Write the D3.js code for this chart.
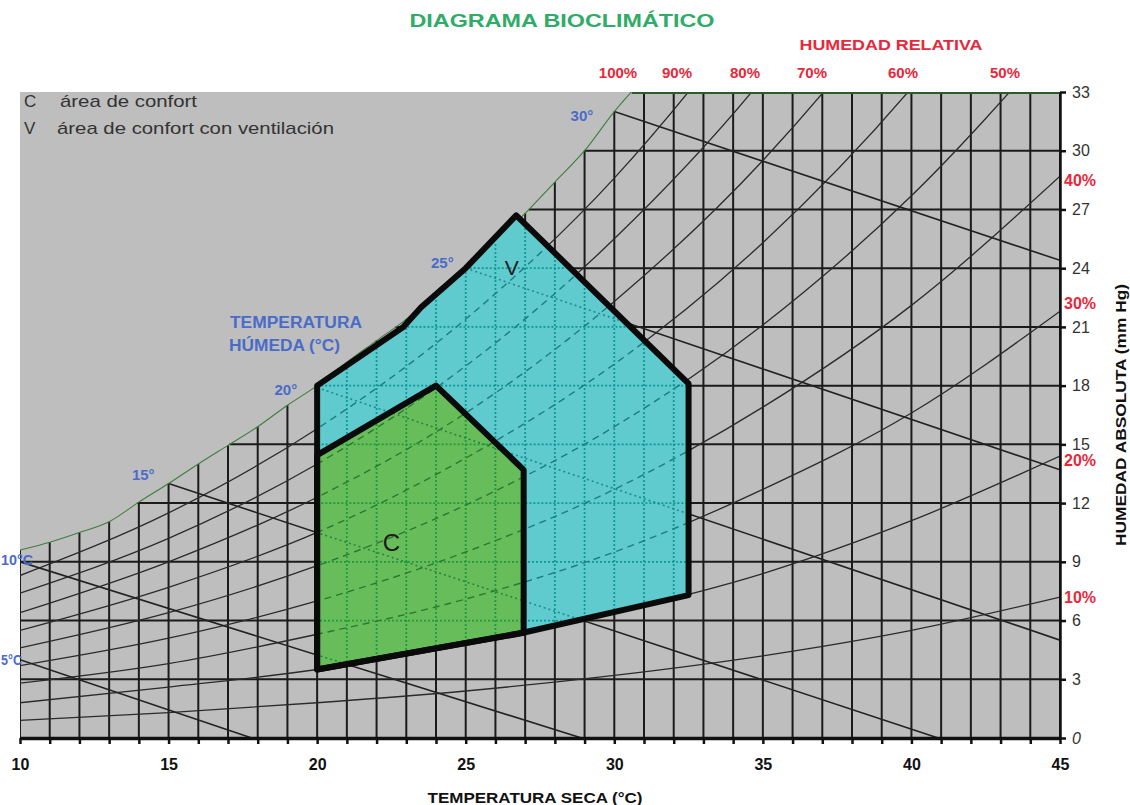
<!DOCTYPE html>
<html>
<head>
<meta charset="utf-8">
<script src="https://cdn.jsdelivr.net/npm/d3@7"></script>
<style>
  body { margin: 0; background: #ffffff; }
  svg { display: block; }
</style>
</head>
<body>
<svg id="chart" width="1130" height="805"></svg>
<script>
// ---- Axis ticks and labels ----
const gridTemps = d3.range(10, 46);                       // one grid line per °C
const tempLabels = [10, 15, 20, 25, 30, 35, 40, 45];      // labelled dry-bulb temperatures
const humidityLabels = [0, 3, 6, 9, 12, 15, 18, 21, 24, 27, 30, 33]; // mm Hg

// ---- Saturation curve (100 % relative humidity), mm Hg per °C ----
const satTemps    = [10, 11, 12, 13, 14, 15, 16, 17, 18, 19, 20, 21, 22, 23, 24, 25, 26, 27, 28, 29, 30, 31];
const satPressure = [9.6, 10.0, 10.5, 11.05, 12.05, 13.0, 14.0, 14.95, 15.9, 17.0, 18.0, 19.2, 20.3, 21.4, 22.8, 24.0, 25.3, 26.8, 28.4, 30.0, 32.0, 33.7];

// ---- Relative humidity curves, vapour pressure (mm Hg) at rhTemps ----
const rhTemps = [10, 15, 20, 25, 30, 35, 40, 45];
const rh90 = [8.3, 11.5, 15.8, 21.4, 28.6, 38.0, 49.8, 64.7];
const rh80 = [7.4, 10.2, 14.0, 19.0, 25.5, 33.7, 44.3, 57.5];
const rh70 = [6.4, 9.0, 12.3, 16.6, 22.3, 29.5, 38.7, 50.3];
const rh60 = [5.5, 7.7, 10.5, 14.3, 19.1, 25.3, 33.2, 43.1];
const rh50 = [4.6, 6.4, 8.8, 11.9, 15.9, 21.1, 27.7, 35.9];
const rh40 = [3.7, 5.1, 7.0, 9.5, 12.7, 16.9, 22.1, 28.7];
const rh30 = [2.8, 3.8, 5.3, 7.1, 9.5, 12.7, 16.6, 21.8];
const rh20 = [1.8, 2.6, 3.5, 4.8, 6.4, 8.4, 11.1, 14.4];
const rh10 = [0.9, 1.3, 1.8, 2.4, 3.2, 4.2, 5.5, 7.2];
const rhCurves = [rh90, rh80, rh70, rh60, rh50, rh40, rh30, rh20, rh10];
const rhTopLabels   = ["100%", "90%", "80%", "70%", "60%", "50%"];
const rhRightLabels = ["40%", "30%", "20%", "10%"];

// ---- Wet-bulb temperature lines: [°C dry, mm Hg] at each end ----
const wetBulbLabels = ["5°C", "10°C", "15°", "20°", "25°", "30°"];
const wetBulbStart  = [[10, 4.0], [10, 9.0], [15, 13.0], [20, 17.9], [25, 24.0], [30, 32.0]];
const wetBulbEnd    = [[17.8, 0], [28.9, 0], [40.9, 0], [45, 5.0], [45, 13.7], [45, 24.4]];

// ---- Comfort zones: [°C dry, mm Hg] ----
const comfortZone     = [[20, 3.5], [20, 14.45], [24.0, 18.0], [26.95, 13.7], [26.95, 5.37]];
const ventilationZone = [[20, 3.5], [20, 18.0], [22.9, 21.0], [23.5, 22.0], [25.0, 24.0], [26.7, 26.7],
                         [32.5, 18.1], [32.5, 7.3], [27.0, 5.4]];

// ---- Scales ----
const svg = d3.select("#chart");
const x = d3.scaleLinear().domain([10, 45]).range([20, 1060]);
const y = d3.scaleLinear().domain([0, 33]).range([738, 92]);

const narrow = "'Liberation Sans Narrow', 'Arial Narrow', 'Liberation Sans', Arial, sans-serif";
const sans = "'Liberation Sans', Arial, sans-serif";

function satAt(t) {
  if (t >= satTemps[satTemps.length - 1]) return satPressure[satPressure.length - 1];
  for (let i = 0; i < satTemps.length - 1; i++) {
    if (t >= satTemps[i] && t <= satTemps[i + 1]) {
      const f = (t - satTemps[i]) / (satTemps[i + 1] - satTemps[i]);
      return satPressure[i] + f * (satPressure[i + 1] - satPressure[i]);
    }
  }
  return satPressure[0];
}
function tempAt(p) {
  if (p <= satPressure[0]) return satTemps[0];
  for (let i = 0; i < satPressure.length - 1; i++) {
    if (p >= satPressure[i] && p <= satPressure[i + 1]) {
      const f = (p - satPressure[i]) / (satPressure[i + 1] - satPressure[i]);
      return satTemps[i] + f * (satTemps[i + 1] - satTemps[i]);
    }
  }
  return satTemps[satTemps.length - 1];
}

// ---- Clip paths ----
const defs = svg.append("defs");
defs.append("clipPath").attr("id", "plotClip")
  .append("rect").attr("x", x(10)).attr("y", y(33)).attr("width", x(45) - x(10)).attr("height", y(0) - y(33));
const polyLine = d3.line().x(d => x(d[0])).y(d => y(d[1]));
defs.append("clipPath").attr("id", "vClip").append("path").attr("d", polyLine(ventilationZone) + "Z");
defs.append("clipPath").attr("id", "cClip").append("path").attr("d", polyLine(comfortZone) + "Z");

// ---- Plot background ----
svg.append("rect")
  .attr("x", x(10)).attr("y", y(33))
  .attr("width", x(45) - x(10)).attr("height", y(0) - y(33))
  .attr("fill", "#bebebe");

// Grid, humidity curves and wet-bulb lines, drawn with a given style
const rhLine = d3.line().curve(d3.curveMonotoneX);
function drawNetwork(g, s) {
  const grid = g.append("g").attr("stroke", s.grid.color).attr("stroke-width", s.grid.width)
    .attr("stroke-dasharray", s.grid.dash);
  grid.selectAll("line.v").data(gridTemps).join("line").attr("class", "v")
    .attr("x1", d => x(d)).attr("x2", d => x(d))
    .attr("y1", y(0)).attr("y2", d => y(Math.min(satAt(d), 33)));
  grid.selectAll("line.h").data(humidityLabels.filter(p => p > 0 && p < 33)).join("line").attr("class", "h")
    .attr("x1", d => x(tempAt(d))).attr("x2", x(45))
    .attr("y1", d => y(d)).attr("y2", d => y(d));

  g.append("g").selectAll("path").data(rhCurves).join("path")
    .attr("d", vals => rhLine(vals.map((v, i) => [x(rhTemps[i]), y(v)])))
    .attr("fill", "none").attr("stroke", s.rh.color).attr("stroke-width", s.rh.width)
    .attr("stroke-dasharray", s.rh.dash);

  g.append("g").selectAll("line").data(wetBulbStart).join("line")
    .attr("x1", d => x(d[0])).attr("y1", d => y(d[1]))
    .attr("x2", (d, i) => x(wetBulbEnd[i][0])).attr("y2", (d, i) => y(wetBulbEnd[i][1]))
    .attr("stroke", s.wb.color).attr("stroke-width", s.wb.width)
    .attr("stroke-dasharray", s.wb.dash);
}

const plot = svg.append("g").attr("clip-path", "url(#plotClip)");
drawNetwork(plot, {
  grid: { color: "#1b1b1b", width: 2, dash: null },
  rh:   { color: "#2b2b2b", width: 1.3, dash: null },
  wb:   { color: "#222222", width: 1.6, dash: null }
});

// Saturation curve and top border
const satPts = satTemps.map((t, i) => [x(t), y(satPressure[i])]);
plot.append("path").attr("d", rhLine(satPts)).attr("fill", "none")
  .attr("stroke", "#3f7d3f").attr("stroke-width", 1.1);
plot.append("line")
  .attr("x1", x(tempAt(33))).attr("x2", x(45)).attr("y1", y(33) + 1).attr("y2", y(33) + 1)
  .attr("stroke", "#2e5a2e").attr("stroke-width", 2);

// ---- Comfort zones ----
svg.append("path").attr("d", polyLine(ventilationZone) + "Z").attr("fill", "#5fcbcf");
drawNetwork(svg.append("g").attr("clip-path", "url(#vClip)"), {
  grid: { color: "#0f9898", width: 1.8, dash: "2,2" },
  rh:   { color: "#1d7d80", width: 1.4, dash: "7,5" },
  wb:   { color: "#1f8c8c", width: 1.6, dash: "2,3" }
});
svg.append("path").attr("d", polyLine(comfortZone) + "Z").attr("fill", "#68bd5b");
drawNetwork(svg.append("g").attr("clip-path", "url(#cClip)"), {
  grid: { color: "#1f9a3e", width: 1.8, dash: "2,2" },
  rh:   { color: "#2b7a30", width: 1.4, dash: "7,5" },
  wb:   { color: "#2a8440", width: 1.6, dash: "2,3" }
});
svg.append("path").attr("d", polyLine(ventilationZone) + "Z")
  .attr("fill", "none").attr("stroke", "#0a0a0a").attr("stroke-width", 6).attr("stroke-linejoin", "round");
svg.append("path").attr("d", polyLine(comfortZone) + "Z")
  .attr("fill", "none").attr("stroke", "#0a0a0a").attr("stroke-width", 6).attr("stroke-linejoin", "round");

svg.append("text").attr("x", x(26.55)).attr("y", y(23.65)).attr("text-anchor", "middle")
  .attr("font-family", sans).attr("font-size", 21).attr("fill", "#1a1a1a").text("V");
svg.append("text").attr("x", x(22.5)).attr("y", y(9.55)).attr("text-anchor", "middle")
  .attr("font-family", sans).attr("font-size", 24).attr("fill", "#1a1a1a").text("C");

// ---- Axes ----
const xAxis = d3.axisBottom(x).tickValues(gridTemps).tickSize(6).tickSizeOuter(0).tickPadding(15)
  .tickFormat(d => tempLabels.includes(d) ? d : "");
const gx = svg.append("g").attr("transform", `translate(0,${y(0)})`).call(xAxis);
gx.select(".domain").attr("stroke", "#111").attr("stroke-width", 3.5);
gx.selectAll(".tick line").attr("stroke", "#111").attr("stroke-width", 2.5);
gx.selectAll(".tick text").attr("font-family", narrow).attr("font-weight", "bold")
  .attr("font-size", 16).attr("fill", "#111");

const yAxis = d3.axisRight(y).tickValues(humidityLabels).tickSize(6).tickSizeOuter(0).tickPadding(6);
const gy = svg.append("g").attr("transform", `translate(${x(45)},0)`).call(yAxis);
gy.select(".domain").attr("stroke", "#111").attr("stroke-width", 2.5);
gy.selectAll(".tick line").attr("stroke", "#111").attr("stroke-width", 2.5);
gy.selectAll(".tick text").attr("font-family", sans).attr("font-size", 16).attr("fill", "#333")
  .attr("font-style", d => d === 0 ? "italic" : "normal");

// ---- Titles ----
svg.append("text").attr("x", 562).attr("y", 20).attr("dominant-baseline", "central")
  .attr("text-anchor", "middle").attr("font-family", sans).attr("font-weight", "bold")
  .attr("font-size", 19).attr("fill", "#2eac68")
  .attr("textLength", 305).attr("lengthAdjust", "spacingAndGlyphs")
  .text("DIAGRAMA BIOCLIMÁTICO");

svg.append("text").attr("x", 891).attr("y", 44).attr("dominant-baseline", "central")
  .attr("text-anchor", "middle").attr("font-family", narrow).attr("font-weight", "bold")
  .attr("font-size", 15).attr("fill", "#e8283a")
  .attr("textLength", 183).attr("lengthAdjust", "spacingAndGlyphs")
  .text("HUMEDAD RELATIVA");

svg.append("text").attr("x", 535).attr("y", 797).attr("dominant-baseline", "central")
  .attr("text-anchor", "middle").attr("font-family", narrow).attr("font-weight", "bold")
  .attr("font-size", 15).attr("fill", "#111")
  .attr("textLength", 215).attr("lengthAdjust", "spacingAndGlyphs")
  .text("TEMPERATURA SECA (°C)");

svg.append("text").attr("transform", "translate(1120,415) rotate(-90)")
  .attr("dominant-baseline", "central").attr("text-anchor", "middle")
  .attr("font-family", narrow).attr("font-weight", "bold").attr("font-size", 15).attr("fill", "#111")
  .attr("textLength", 262).attr("lengthAdjust", "spacingAndGlyphs")
  .text("HUMEDAD ABSOLUTA (mm Hg)");

// Relative humidity labels along the top and the right side
const topLabelX = [618, 677, 745, 812, 903, 1005];
svg.append("g").selectAll("text").data(rhTopLabels).join("text")
  .attr("x", (d, i) => topLabelX[i]).attr("y", 72).attr("dominant-baseline", "central")
  .attr("text-anchor", "middle").attr("font-family", narrow).attr("font-weight", "bold")
  .attr("font-size", 15).attr("fill", "#e8283a").text(d => d);

const rightLabelP = [28.5, 22.2, 14.2, 7.2];
svg.append("g").selectAll("text").data(rhRightLabels).join("text")
  .attr("x", 1064).attr("y", (d, i) => y(rightLabelP[i])).attr("dominant-baseline", "central")
  .attr("font-family", narrow).attr("font-weight", "bold")
  .attr("font-size", 16).attr("fill", "#e8283a").text(d => d);

// Wet-bulb labels (the two at the left edge sit in the margin, squeezed to fit)
const blue = "#4a6cc9";
const wbNudge = [[-20, 0], [-20, -2], [-14, -9], [-20, 2], [-12, -6], [-21, 4]];
const wbFit = [21, 32, null, null, null, null];
svg.append("g").selectAll("text").data(wetBulbLabels).join("text")
  .attr("x", (d, i) => i < 2 ? 1 : x(wetBulbStart[i][0]) + wbNudge[i][0])
  .attr("y", (d, i) => y(wetBulbStart[i][1]) + wbNudge[i][1])
  .attr("dominant-baseline", "central").attr("text-anchor", (d, i) => i < 2 ? "start" : "end")
  .attr("font-family", narrow).attr("font-weight", "bold").attr("font-size", 15)
  .attr("textLength", (d, i) => wbFit[i]).attr("lengthAdjust", "spacingAndGlyphs")
  .attr("fill", blue).text(d => d);

svg.append("text").attr("x", 296).attr("y", 322).attr("dominant-baseline", "central")
  .attr("text-anchor", "middle").attr("font-family", narrow).attr("font-weight", "bold")
  .attr("font-size", 16).attr("fill", blue)
  .attr("textLength", 132).attr("lengthAdjust", "spacingAndGlyphs").text("TEMPERATURA");
svg.append("text").attr("x", 284.5).attr("y", 345).attr("dominant-baseline", "central")
  .attr("text-anchor", "middle").attr("font-family", narrow).attr("font-weight", "bold")
  .attr("font-size", 16).attr("fill", blue)
  .attr("textLength", 111).attr("lengthAdjust", "spacingAndGlyphs").text("HÚMEDA (°C)");

// ---- Legend ----
const legend = svg.append("g").attr("font-family", sans).attr("font-size", 17).attr("fill", "#333");
legend.append("text").attr("x", 24).attr("y", 101).attr("dominant-baseline", "central").text("C");
legend.append("text").attr("x", 60).attr("y", 101).attr("dominant-baseline", "central")
  .attr("textLength", 137).attr("lengthAdjust", "spacingAndGlyphs").text("área de confort");
legend.append("text").attr("x", 24).attr("y", 128).attr("dominant-baseline", "central").text("V");
legend.append("text").attr("x", 57).attr("y", 128).attr("dominant-baseline", "central")
  .attr("textLength", 277).attr("lengthAdjust", "spacingAndGlyphs").text("área de confort con ventilación");
</script>
</body>
</html>
